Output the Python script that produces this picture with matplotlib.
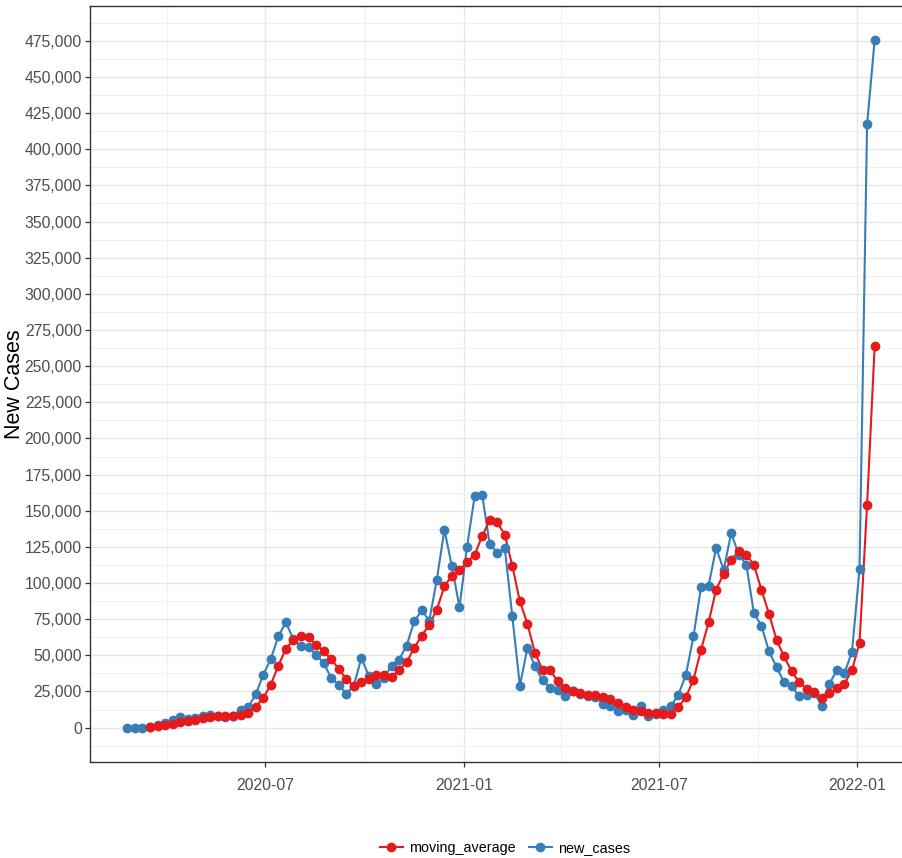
import matplotlib
matplotlib.use("Agg")
import matplotlib.pyplot as plt
import matplotlib.dates as mdates
from matplotlib.lines import Line2D
from matplotlib.ticker import FuncFormatter, MultipleLocator
import numpy as np
import pandas as pd

# ---- data (weekly) ----
start_date = "2020-02-24"
n_weeks = 100

new_cases = [
    0, 0, 0, 500, 2000, 3500, 5000, 7500, 6000, 6500,
    8000, 8500, 8000, 7500, 8000, 12500, 14000, 23000, 36500, 47500,
    63100, 72800, 61000, 56200, 55800, 50500, 44700, 34400, 29700, 23500,
    29000, 48200, 35500, 30400, 34400, 42900, 47000, 56700, 73500, 81100,
    74000, 102300, 136900, 111500, 83200, 124900, 159900, 161100, 127200, 120800,
    124200, 77000, 29000, 55100, 42400, 32700, 27400, 25800, 21700, 25500,
    23000, 22000, 21500, 16600, 15200, 11300, 12000, 9000, 15200, 7800,
    9700, 12000, 14700, 22800, 36600, 63100, 97200, 98200, 124200, 109200,
    134600, 119600, 112700, 79300, 70500, 52800, 42000, 31300, 28600, 21700,
    22800, 24000, 15200, 30400, 39700, 37500, 52500, 109600, 417200, 475300,
]

moving_average = [
    np.nan, np.nan, np.nan, 300, 900, 1500, 2500, 3700, 4500, 5500,
    7000, 7400, 8000, 7800, 7800, 9000, 10000, 14300, 20500, 29700,
    42900, 54400, 60800, 63600, 62400, 57400, 52800, 47500, 40600, 33700,
    29000, 31300, 33700, 36600, 36600, 35000, 40100, 45200, 55100, 63600,
    71200, 81600, 97700, 105100, 108800, 114300, 119600, 132300, 143300, 141900,
    133400, 112000, 87300, 71900, 51600, 40100, 39600, 32300, 27400, 25100,
    24000, 22800, 22500, 21500, 20000, 17000, 14500, 12400, 11300, 10100,
    10100, 9700, 9300, 14300, 21200, 33200, 53900, 72800, 95400, 106500,
    116200, 121900, 119600, 112700, 95400, 78800, 60800, 49300, 38900, 31300,
    26800, 24400, 20700, 23700, 27100, 30300, 39700, 58800, 154000, 263700,
]

series_names = ["moving_average", "new_cases"]
series_colors = {"moving_average": "#E41A1C", "new_cases": "#377EB8"}
x_major = ["2020-07-01", "2021-01-01", "2021-07-01", "2022-01-01"]
x_minor = ["2020-04-01", "2020-10-01", "2021-04-01", "2021-10-01"]
y_tick_max = 475000
y_tick_step = 25000

dates = pd.date_range(start_date, periods=n_weeks, freq="7D")

FAM = ["Liberation Sans", "DejaVu Sans"]

# ---- figure ----
W, H = 902, 858
fig = plt.figure(figsize=(W / 100, H / 100), dpi=100)
fig.patch.set_facecolor("white")
ax = fig.add_axes([90 / W, (H - 762) / H, 822 / W, (762 - 6) / H])
ax.set_facecolor("white")

xnum = mdates.date2num(dates.to_pydatetime())
data = {"moving_average": np.array(moving_average, float),
        "new_cases": np.array(new_cases, float)}

# lines first, then points (red on top)
for name in ["new_cases", "moving_average"]:
    ax.plot(xnum, data[name], color=series_colors[name], lw=1.5, zorder=3,
            solid_capstyle="round")
for name in ["new_cases", "moving_average"]:
    ax.plot(xnum, data[name], linestyle="none", marker="o", ms=6,
            color=series_colors[name], zorder=4)

# limits with ggplot-like 5% expansion
xr = xnum[-1] - xnum[0]
ax.set_xlim(xnum[0] - 0.05 * xr, xnum[-1] + 0.05 * xr)
ymin = np.nanmin([np.nanmin(data[n]) for n in series_names])
ymax = np.nanmax([np.nanmax(data[n]) for n in series_names])
yr = ymax - ymin
ax.set_ylim(ymin - 0.05 * yr, ymax + 0.05 * yr)

# ticks
ax.set_yticks(np.arange(0, y_tick_max + 1, y_tick_step))
ax.yaxis.set_minor_locator(MultipleLocator(y_tick_step / 2))
ax.yaxis.set_major_formatter(FuncFormatter(lambda v, p: f"{int(round(v)):,}"))
ax.set_xticks(mdates.date2num(pd.to_datetime(x_major).to_pydatetime()))
ax.set_xticks(mdates.date2num(pd.to_datetime(x_minor).to_pydatetime()), minor=True)
ax.set_xticklabels([pd.Timestamp(d).strftime("%Y-%m") for d in x_major])

ax.grid(which="major", color="#E6E6E6", lw=1.0, zorder=0)
ax.grid(which="minor", color="#F0F0F0", lw=0.8, zorder=0)
ax.set_axisbelow(True)

for lab in ax.get_xticklabels() + ax.get_yticklabels():
    lab.set_fontfamily(FAM)
    lab.set_fontsize(11.3)
    lab.set_color("#4D4D4D")
ax.tick_params(which="major", length=3.8, width=0.9, color="#333333")
ax.tick_params(axis="y", which="major", pad=2)
ax.tick_params(axis="x", which="major", pad=8)
ax.tick_params(which="minor", length=0)

for s in ["left", "top", "bottom", "right"]:
    ax.spines[s].set_color("#333333")
    ax.spines[s].set_linewidth(1.0)

ax.set_ylabel("New Cases", fontsize=15.5, family=FAM, color="black")
ax.yaxis.set_label_coords((25 - 90) / 822, 0.5)

handles = [Line2D([0], [0], color=series_colors[n], lw=1.5, marker="o", ms=6)
           for n in series_names]
fig.legend(handles, series_names, loc="center", bbox_to_anchor=(505 / W, 1 - 848 / H),
           ncol=2, frameon=False, handlelength=1.6, handletextpad=0.45,
           columnspacing=0.9, prop={"family": FAM, "size": 10.4})

fig.savefig("out.png", dpi=100, facecolor="white")
